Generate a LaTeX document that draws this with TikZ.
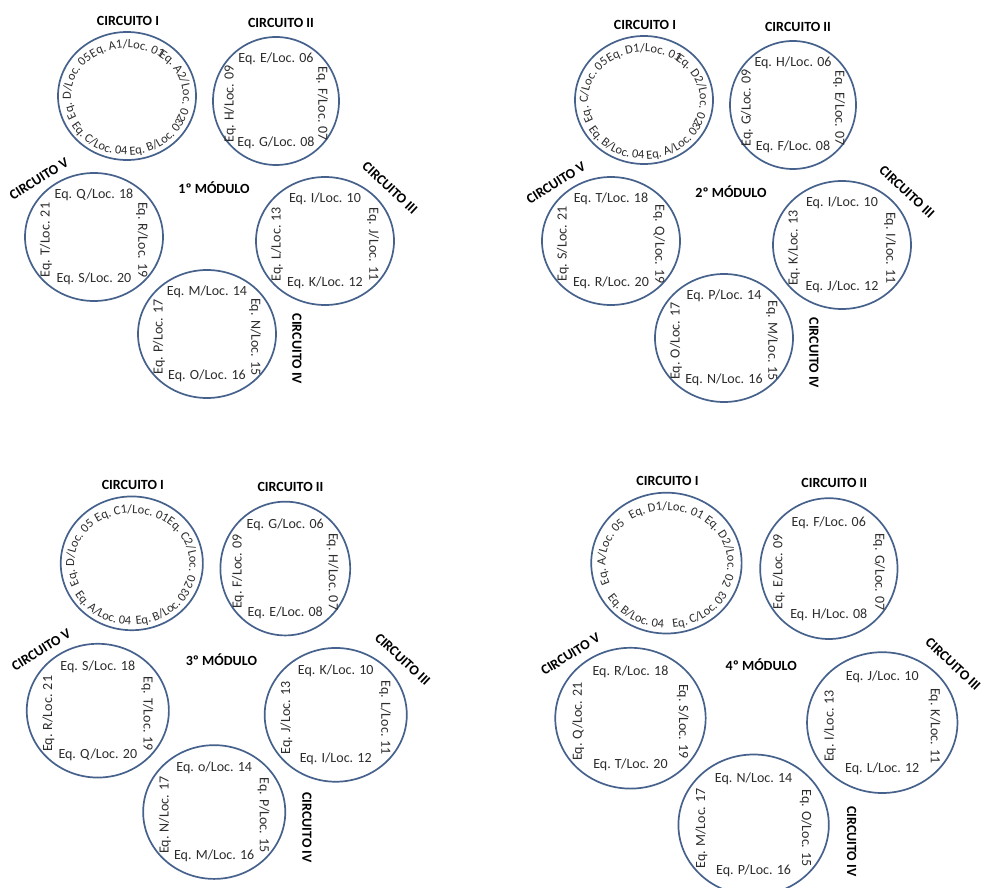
\documentclass[tikz,border=0pt]{standalone}
\usepackage{fontspec}
\setmainfont{Carlito}
\usetikzlibrary{decorations.text}

\definecolor{anelazul}{RGB}{70,98,140}
\definecolor{eqcinza}{RGB}{45,45,45}
\newcommand{\eqfont}{\fontsize{14}{16}\selectfont}
\newcommand{\arcofont}{\fontsize{12.5}{15}\selectfont}

\tikzset{
  anel/.style={draw=anelazul,line width=1.7pt},
  eqlabel/.style={font=\eqfont,text=eqcinza,inner sep=1pt},
  titulo/.style={font=\eqfont\bfseries,inner sep=1pt}
}

% circuito I: cinco equipes escritas ao longo do anel
\newcommand{\anelcinco}[2]{%
  \begin{scope}[shift={(127,-96)}]
    \arcofont
    \draw[anel] (0,0) ellipse[x radius=69pt,y radius=64pt];
    \coordinate (#1) at (0,0);
    \foreach \l [count=\i] in {#2} {
      \pgfmathsetmacro\ang{{90,13,-56,-121,168}[\i-1]}
      \pgfmathsetmacro\dir{{1,1,-1,-1,1}[\i-1]}
      \pgfmathsetmacro\rx{\dir>0 ? 56 : 64}
      \pgfmathsetmacro\ry{\dir>0 ? 48 : 59}
      \pgfmathsetmacro\ai{\ang+60*\dir}
      \pgfmathsetmacro\af{\ang-60*\dir}
      \path[decorate,decoration={text along path,text align=center,
          text color=eqcinza,text/.expanded={Eq. \l/Loc. 0\i}}]
        (\ai:\rx pt and \ry pt) arc[start angle=\ai,end angle=\af,
          x radius=\rx pt,y radius=\ry pt];
    }
  \end{scope}}

% circuitos II a V: quatro equipes (topo, direita, baixo, esquerda)
\newcommand{\anelquatro}[6]{%
  \begin{scope}[shift={(#2)}]
    \draw[anel] (0,0) ellipse[x radius=#3pt,y radius=64pt];
    \foreach \l [count=\i from 0] in {#6} {
      \pgfmathsetmacro\dx{{0,#4,0,-#4}[\i]}
      \pgfmathsetmacro\dy{{42,-3,-42,-3}[\i]}
      \pgfmathsetmacro\rot{{0,-90,0,90}[\i]}
      \pgfmathtruncatemacro\num{#5+\i}
      \node[eqlabel,rotate=\rot] (#1-\i) at (\dx,\dy) {Eq. \l/Loc. \ifnum\num<10 0\fi\num};
    }
  \end{scope}}

\newcommand{\modulo}[6]{%
  \anelcinco{c1}{#2}
  \anelquatro{c2}{276,-101}{63}{46}{6}{#3}
  \anelquatro{c3}{325,-241}{69}{48}{10}{#4}
  \anelquatro{c4}{207,-334}{69}{48}{14}{#5}
  \anelquatro{c5}{94,-237}{69}{48}{18}{#6}
  \node[titulo] (t1) at (128,-21) {CIRCUITO I};
  \node[titulo] (t2) at (281,-23) {CIRCUITO II};
  \node[titulo,rotate=-43] (t3) at (390,-188) {CIRCUITO III};
  \node[titulo,rotate=-90] (t4) at (297,-349) {CIRCUITO IV};
  \node[titulo,rotate=32] (t5) at (39,-179) {CIRCUITO V};
  \node[titulo] (tm) at (214,-188) {#1};
}

\begin{document}
\begin{tikzpicture}[x=1pt,y=1pt]
  \useasboundingbox (0,0) rectangle (983,-888);
  \fill[white] (0,0) rectangle (983,-888);
  \begin{scope}[name prefix=m1-]
    \modulo{1º MÓDULO}{A1,A2,B,C,D}{E,F,G,H}{I,J,K,L}{M,N,O,P}{Q,R,S,T}
  \end{scope}
  \begin{scope}[name prefix=m2-,shift={(517,-4)}]
    \modulo{2º MÓDULO}{D1,D2,A,B,C}{H,E,F,G}{I,I,J,K}{P,M,N,O}{T,Q,R,S}
  \end{scope}
  \begin{scope}[name prefix=m3-,shift={(1,-463)},xscale=1.03,yscale=1.045]
    \modulo{3º MÓDULO}{C1,C2,B,A,D}{G,H,E,F}{K,L,I,J}{o,P,M,N}{S,T,Q,R}
  \end{scope}
  \begin{scope}[name prefix=m4-,shift={(528,-457.5)},xscale=1.09,yscale=1.1]
    \modulo{4º MÓDULO}{D1,D2,C,B,A}{F,G,H,E}{J,K,L,I}{N,O,P,M}{R,S,T,Q}
  \end{scope}
\end{tikzpicture}
\end{document}
